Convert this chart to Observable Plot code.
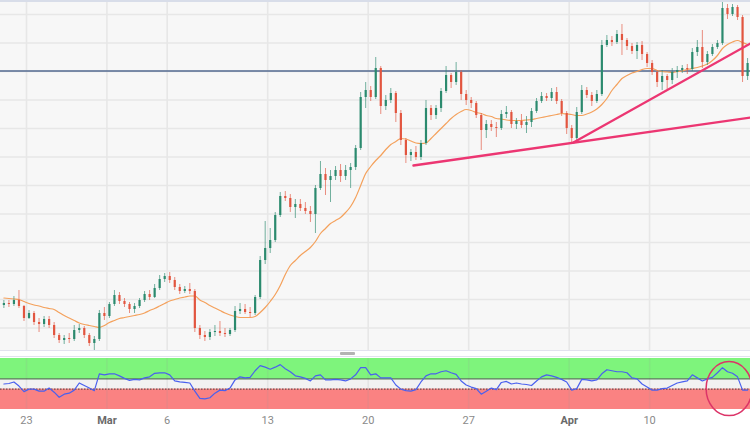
<!DOCTYPE html>
<html><head><meta charset="utf-8">
<script src="https://cdn.jsdelivr.net/npm/d3@7"></script>
<script src="https://cdn.jsdelivr.net/npm/@observablehq/plot@0.6"></script>
<style>
body{margin:0;background:#fff;font-family:Roboto,"Noto Sans",sans-serif;}
#wrap{width:750px;height:430px;overflow:hidden;position:relative}
#topline{height:2px;background:#d8dde9}
#gap{height:7px;box-sizing:border-box;border-top:1px solid #e2e2ee;border-bottom:1px solid #e2e2ee;position:relative;background:#fff}
#handle{position:absolute;left:340px;top:1px;width:15px;height:3px;background:#b3b3b3;border-radius:1px}
svg{display:block}
</style></head><body>
<div id="wrap"><div id="topline"></div><div id="main"></div><div id="gap"><div id="handle"></div></div><div id="rsi"></div></div>
<script>
// ---- time axis (trading days, Feb 23 = day 0; 4 candles per trading day) ----
const firstT = -1.125;
const stepT = 0.25;
const tickDays = [0, 4, 7, 12, 17, 22, 27, 31];
const tickLabels = ["23", "Mar", "6", "13", "20", "27", "Apr", "10"];

// ---- price candles ----
const open = [
1.0590,1.0594,1.0592,1.0600,1.0588,1.0564,1.0574,1.0556,1.0552,1.0562,
1.0550,1.0530,1.0520,1.0524,1.0522,1.0540,1.0544,1.0530,1.0514,1.0522,
1.0574,1.0568,1.0592,1.0610,1.0598,1.0592,1.0582,1.0588,1.0600,1.0612,
1.0606,1.0624,1.0642,1.0648,1.0640,1.0626,1.0618,1.0622,1.0618,1.0544,
1.0530,1.0526,1.0536,1.0538,1.0534,1.0532,1.0540,1.0578,1.0582,1.0576,
1.0574,1.0606,1.0680,1.0704,1.0720,1.0770,1.0808,1.0804,1.0786,1.0792,
1.0784,1.0778,1.0772,1.0824,1.0852,1.0840,1.0848,1.0860,1.0848,1.0860,
1.0866,1.0904,1.1006,1.1020,1.1006,1.1064,1.0988,1.1000,1.1014,1.0974,
1.0920,1.0890,1.0896,1.0886,1.0914,1.0984,1.0970,1.0984,1.1018,1.1050,
1.1036,1.1056,1.1012,1.1000,1.0994,1.0970,1.0940,1.0952,1.0946,1.0944,
1.0972,1.0976,1.0952,1.0958,1.0950,1.0956,1.0978,1.0998,1.1008,1.1004,
1.1016,1.0998,1.0974,1.0944,1.0924,1.0976,1.1020,1.1010,1.0998,1.1012,
1.1110,1.1120,1.1116,1.1132,1.1120,1.1108,1.1098,1.1110,1.1092,1.1074,
1.1056,1.1036,1.1048,1.1040,1.1056,1.1060,1.1064,1.1062,1.1096,1.1106,
1.1076,1.1092,1.1106,1.1114,1.1184,1.1172,1.1186,1.1166,1.1048];
const high = [
1.0600,1.0600,1.0608,1.0620,1.0590,1.0580,1.0578,1.0564,1.0568,1.0568,
1.0556,1.0534,1.0530,1.0534,1.0550,1.0552,1.0548,1.0534,1.0528,1.0580,
1.0586,1.0596,1.0620,1.0616,1.0604,1.0596,1.0594,1.0604,1.0618,1.0620,
1.0632,1.0650,1.0654,1.0656,1.0646,1.0632,1.0628,1.0634,1.0622,1.0550,
1.0538,1.0542,1.0550,1.0558,1.0544,1.0544,1.0588,1.0594,1.0592,1.0586,
1.0610,1.0688,1.0758,1.0744,1.0776,1.0816,1.0818,1.0812,1.0802,1.0802,
1.0796,1.0788,1.0830,1.0878,1.0864,1.0860,1.0868,1.0872,1.0870,1.0874,
1.0910,1.1016,1.1036,1.1028,1.1086,1.1068,1.1010,1.1024,1.1018,1.0980,
1.0924,1.0902,1.0908,1.0920,1.1000,1.0990,1.0990,1.1024,1.1068,1.1054,
1.1076,1.1060,1.1020,1.1006,1.0998,1.0974,1.0960,1.0960,1.0956,1.0980,
1.0988,1.0980,1.0964,1.0972,1.0968,1.0984,1.1004,1.1016,1.1014,1.1024,
1.1026,1.1002,1.0978,1.0950,1.0986,1.1030,1.1026,1.1016,1.1020,1.1120,
1.1130,1.1128,1.1140,1.1152,1.1124,1.1114,1.1116,1.1118,1.1096,1.1080,
1.1060,1.1060,1.1052,1.1064,1.1068,1.1070,1.1072,1.1104,1.1120,1.1140,
1.1098,1.1112,1.1120,1.1196,1.1192,1.1192,1.1190,1.1170,1.1084];
const low = [
1.0584,1.0586,1.0588,1.0584,1.0558,1.0562,1.0550,1.0536,1.0546,1.0544,
1.0524,1.0514,1.0512,1.0514,1.0518,1.0534,1.0524,1.0508,1.0500,1.0518,
1.0560,1.0564,1.0588,1.0592,1.0586,1.0574,1.0574,1.0584,1.0596,1.0600,
1.0604,1.0620,1.0636,1.0634,1.0620,1.0612,1.0614,1.0612,1.0536,1.0522,
1.0518,1.0520,1.0528,1.0528,1.0526,1.0528,1.0536,1.0572,1.0572,1.0566,
1.0570,1.0602,1.0672,1.0694,1.0716,1.0766,1.0798,1.0776,1.0764,1.0778,
1.0772,1.0756,1.0734,1.0820,1.0810,1.0796,1.0840,1.0836,1.0840,1.0824,
1.0860,1.0900,1.0984,1.0998,1.1002,1.0972,1.0980,1.0994,1.0956,1.0910,
1.0874,1.0878,1.0880,1.0880,1.0910,1.0960,1.0962,1.0976,1.1014,1.1024,
1.1030,1.1000,1.0990,1.0984,1.0964,1.0900,1.0924,1.0938,1.0926,1.0940,
1.0964,1.0944,1.0942,1.0944,1.0934,1.0946,1.0974,1.0994,1.0998,1.0998,
1.0992,1.0968,1.0932,1.0914,1.0920,1.0972,1.1004,1.0988,1.0994,1.1008,
1.1106,1.1108,1.1112,1.1090,1.1100,1.1092,1.1082,1.1080,1.1066,1.1050,
1.1026,1.1020,1.1022,1.1032,1.1044,1.1054,1.1052,1.1058,1.1088,1.1064,
1.1070,1.1088,1.1102,1.1110,1.1162,1.1168,1.1160,1.1036,1.1040];
const close = [
1.0594,1.0592,1.0600,1.0588,1.0564,1.0574,1.0556,1.0552,1.0562,1.0550,
1.0530,1.0520,1.0524,1.0522,1.0540,1.0544,1.0530,1.0514,1.0522,1.0574,
1.0568,1.0592,1.0610,1.0598,1.0592,1.0582,1.0588,1.0600,1.0612,1.0606,
1.0624,1.0642,1.0648,1.0640,1.0626,1.0618,1.0622,1.0618,1.0544,1.0530,
1.0526,1.0536,1.0538,1.0534,1.0532,1.0540,1.0578,1.0582,1.0576,1.0574,
1.0606,1.0680,1.0704,1.0720,1.0770,1.0808,1.0804,1.0786,1.0792,1.0784,
1.0778,1.0772,1.0824,1.0852,1.0840,1.0848,1.0860,1.0848,1.0860,1.0866,
1.0904,1.1006,1.1020,1.1006,1.1064,1.0988,1.1000,1.1014,1.0974,1.0920,
1.0890,1.0896,1.0886,1.0914,1.0984,1.0970,1.0984,1.1018,1.1050,1.1036,
1.1056,1.1012,1.1000,1.0994,1.0970,1.0940,1.0952,1.0946,1.0944,1.0972,
1.0976,1.0952,1.0958,1.0950,1.0956,1.0978,1.0998,1.1008,1.1004,1.1016,
1.0998,1.0974,1.0944,1.0924,1.0976,1.1020,1.1010,1.0998,1.1012,1.1110,
1.1120,1.1116,1.1132,1.1120,1.1108,1.1098,1.1110,1.1092,1.1074,1.1056,
1.1036,1.1048,1.1040,1.1056,1.1060,1.1064,1.1062,1.1096,1.1106,1.1076,
1.1092,1.1106,1.1114,1.1184,1.1172,1.1186,1.1166,1.1048,1.1074];

// ---- moving average ----
const ma = [
1.0605,1.0604,1.0603,1.0602,1.0598,1.0594,1.0591,1.0589,1.0586,1.0584,
1.0582,1.0576,1.0570,1.0565,1.0560,1.0555,1.0552,1.0550,1.0548,1.0546,
1.0550,1.0556,1.0560,1.0564,1.0566,1.0568,1.0570,1.0572,1.0575,1.0580,
1.0584,1.0589,1.0594,1.0599,1.0602,1.0605,1.0607,1.0609,1.0609,1.0601,
1.0596,1.0590,1.0585,1.0580,1.0575,1.0571,1.0568,1.0566,1.0566,1.0566,
1.0568,1.0576,1.0586,1.0598,1.0612,1.0630,1.0652,1.0670,1.0680,1.0690,
1.0698,1.0706,1.0718,1.0734,1.0744,1.0754,1.0760,1.0766,1.0776,1.0788,
1.0806,1.0830,1.0854,1.0868,1.0880,1.0890,1.0902,1.0912,1.0918,1.0924,
1.0923,1.0919,1.0915,1.0914,1.0915,1.0924,1.0934,1.0944,1.0954,1.0964,
1.0972,1.0978,1.0982,1.0980,1.0976,1.0974,1.0970,1.0968,1.0964,1.0963,
1.0961,1.0960,1.0960,1.0960,1.0961,1.0962,1.0964,1.0966,1.0968,1.0970,
1.0972,1.0974,1.0973,1.0972,1.0970,1.0970,1.0973,1.0977,1.0983,1.0992,
1.1004,1.1020,1.1032,1.1044,1.1050,1.1055,1.1058,1.1062,1.1064,1.1064,
1.1060,1.1058,1.1057,1.1056,1.1058,1.1059,1.1062,1.1064,1.1066,1.1069,
1.1073,1.1080,1.1090,1.1104,1.1112,1.1117,1.1120,1.1116,1.1112];

// ---- RSI ----
const rsi = [
50,51,54,46,35,40,40,36,36,42,
34,24,30,32,38,52,47,42,37,70,
68,70,70,66,61,57,59,58,62,64,
71,72,72,68,56,54,53,52,36,22,
21,23,32,38,37,42,58,64,62,63,
76,86,83,79,83,88,80,74,66,64,
61,56,66,68,58,58,59,58,56,60,
68,82,82,68,70,62,62,62,48,40,
37,36,39,54,66,70,70,74,76,72,
69,56,48,44,41,30,36,42,39,53,
55,50,52,50,49,47,56,64,68,66,
63,59,54,38,41,59,58,56,58,70,
78,76,74,74,72,62,60,50,44,38,
38,41,42,47,52,54,56,68,62,56,
60,63,72,82,74,71,64,38,38];
const rsiUpper = 60;
const rsiLower = 40;

// ---- horizontal level, grid levels and trend lines ----
const keyLevel = 1.1059;
const gridLevels = [1.1172,1.1115,1.1058,1.1001,1.0944,1.0887,1.0830,1.0773,1.0716,1.0659,1.0602,1.0545];
const trend1T = [19.25, 36.02];
const trend1P = [1.0870, 1.0966];
const trend2T = [27.21, 36.02];
const trend2P = [1.0916, 1.1114];
const circleT = 34.98;
const circleRsi = 40;

// ---- build ----
const n = close.length;
[open, high, low, ma, rsi].forEach((a, k) => { if (a.length !== n) throw new Error("length mismatch " + k + ": " + a.length + " vs " + n); });
const candles = close.map((c, i) => ({t: firstT + i * stepT, o: open[i], h: high[i], l: low[i], c, ma: ma[i], rsi: rsi[i]}));
const trend1 = trend1T.map((t, i) => ({t, p: trend1P[i]}));
const trend2 = trend2T.map((t, i) => ({t, p: trend2P[i]}));
const ticks = tickDays.map((d, i) => ({d, label: tickLabels[i]}));

const UP = "#2b8a6e", DOWN = "#e2553f";
const xDomain = [-1.2935, 36.02];
const candleColor = d => d.c >= d.o ? UP : DOWN;

const mainPlot = Plot.plot({
  width: 750, height: 348, margin: 0,
  x: {domain: xDomain, axis: null},
  y: {domain: [1.05, 1.1196], axis: null},
  style: {background: "#f7f7f7", overflow: "hidden"},
  marks: [
    Plot.ruleY(gridLevels, {stroke: "#e7e7e7", strokeWidth: 1.3}),
    Plot.ruleX(tickDays, {stroke: "#e7e7e7", strokeWidth: 1.6}),
    Plot.ruleY([keyLevel], {stroke: "#52698f", strokeWidth: 1.4}),
    Plot.line(candles, {x: "t", y: "ma", stroke: "#f4a15c", strokeWidth: 1.2, curve: "monotone-x"}),
    Plot.ruleX(candles, {x: "t", y1: "l", y2: "h", stroke: candleColor, strokeWidth: 1, strokeOpacity: 0.65}),
    Plot.ruleX(candles, {x: "t", y1: "o", y2: "c", stroke: candleColor, strokeWidth: 2.2}),
    Plot.line(trend1, {x: "t", y: "p", stroke: "#ec3672", strokeWidth: 2.3}),
    Plot.line(trend2, {x: "t", y: "p", stroke: "#ec3672", strokeWidth: 2.3})
  ]
});
document.getElementById("main").appendChild(mainPlot);

const rsiPlot = Plot.plot({
  width: 750, height: 73, marginTop: 1, marginBottom: 21, marginLeft: 0, marginRight: 0,
  x: {domain: xDomain, axis: null},
  y: {domain: [0, 100], axis: null},
  style: {background: "#ffffff", fontFamily: "Roboto, 'Noto Sans', sans-serif"},
  marks: [
    Plot.rect([{lo: 0, hi: 100}], {x1: () => xDomain[0], x2: () => xDomain[1], y1: "lo", y2: "hi", fill: "#f2f2f2"}),
    Plot.rect([{lo: rsiUpper, hi: 100}], {x1: () => xDomain[0], x2: () => xDomain[1], y1: "lo", y2: "hi", fill: "#7ef47c"}),
    Plot.rect([{lo: 0, hi: rsiLower}], {x1: () => xDomain[0], x2: () => xDomain[1], y1: "lo", y2: "hi", fill: "#fa8282"}),
    Plot.ruleX(tickDays, {y1: 0, y2: 100, stroke: "#999", strokeOpacity: 0.15, strokeWidth: 1.5}),
    Plot.ruleY([rsiUpper], {stroke: "#2f5d2f", strokeWidth: 1}),
    Plot.ruleY([rsiLower], {stroke: "#444", strokeWidth: 1, strokeDasharray: "1.5,1.5"}),
    Plot.line(candles, {x: "t", y: "rsi", stroke: "#4a60ee", strokeWidth: 1.2}),
    Plot.text(ticks.filter(d => !isNaN(+d.label)), {x: "d", text: "label", frameAnchor: "bottom", dy: 11, fontSize: 11, fill: "#8a8a8a", lineAnchor: "middle"}),
    Plot.text(ticks.filter(d => isNaN(+d.label)), {x: "d", text: "label", frameAnchor: "bottom", dy: 11, fontSize: 11, fontWeight: "bold", fill: "#6a6a6a", lineAnchor: "middle"})
  ]
});
document.getElementById("rsi").appendChild(rsiPlot);

// annotation ellipse around the latest RSI move
const sx = rsiPlot.scale("x"), sy = rsiPlot.scale("y");
d3.select(rsiPlot).append("ellipse")
  .attr("cx", sx.apply(circleT)).attr("cy", sy.apply(circleRsi))
  .attr("rx", 23).attr("ry", 27)
  .attr("fill", "none").attr("stroke", "#dc3468").attr("stroke-width", 1.5);
</script>
</body></html>
